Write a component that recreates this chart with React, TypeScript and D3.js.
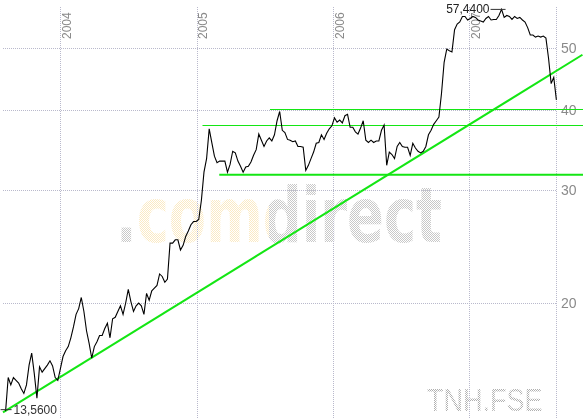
import React, { useEffect, useRef } from 'react';
import * as d3 from 'd3';

const width = 583;
const height = 419;

// weekly closes, first week 2003-08-07
const firstWeek = '2003-08-07';
const closes = [
  13.56, 15.3, 14.9, 15.3, 15.15, 15.0, 14.7, 14.45, 14.9, 16.0,
  16.7, 15.5, 14.2, 15.9, 15.6, 15.8, 16.0, 16.25, 15.95, 15.3,
  15.15, 15.8, 16.5, 16.85, 17.1, 17.65, 18.35, 19.2, 19.6, 20.4,
  19.4, 18.1, 17.3, 16.4, 17.1, 17.4, 17.8, 17.8, 18.25, 18.6,
  17.65, 18.9, 19.0, 19.4, 19.8, 19.2, 20.0, 21.0, 20.1, 19.4,
  19.8, 20.0, 19.8, 19.2, 20.7, 20.2, 20.9, 21.1, 21.3, 22.2,
  22.0, 21.55, 21.8, 24.8, 24.8, 25.1, 25.1, 24.2, 24.6, 25.4,
  25.9, 26.5, 26.8, 26.8, 27.0, 28.9, 32.0, 33.6, 37.4, 35.6,
  33.9, 33.1, 33.3, 33.3, 33.3, 32.0, 32.9, 34.5, 34.3, 33.3,
  32.7, 32.0, 32.6, 32.7, 33.2, 34.0, 34.7, 36.7, 35.9, 35.1,
  35.8, 36.2, 35.8, 36.6, 38.5, 39.8, 37.2, 36.9, 36.0, 35.9,
  35.7, 35.8, 35.1, 35.1, 35.0, 32.2, 32.8, 33.6, 34.4, 35.5,
  35.6, 36.6, 36.0, 36.8, 37.4, 37.8, 38.9, 38.3, 38.6, 38.2,
  39.2, 39.4, 37.6, 37.6, 37.0, 36.7, 37.5, 38.5, 35.9, 35.6,
  35.9, 35.6, 35.8, 35.8, 37.2, 37.9, 32.8, 34.4, 34.1, 33.6,
  35.1, 35.6, 35.1, 35.0, 35.0, 34.0, 35.5, 34.9, 34.5, 34.3,
  34.5, 35.1, 36.6, 37.2, 38.0, 38.5, 39.0, 42.5, 47.5, 49.8,
  49.5, 49.3, 53.4, 54.5, 54.9, 56.0, 56.0, 55.3, 55.6, 56.0,
  55.8, 55.3, 55.1, 54.9, 55.6, 56.0, 55.3, 55.4, 55.4, 56.2,
  57.44, 55.8, 56.2, 56.0, 55.4, 56.0, 55.6, 55.8, 55.3, 54.9,
  53.8, 52.4, 52.4, 52.0, 52.2, 52.0, 52.2, 51.8, 48.2, 44.0,
  45.0, 41.5,
];

const yearTicks = [2004, 2005, 2006, 2007];
const priceTicks = [20, 30, 40, 50];

// horizontal support / resistance lines
const channelLevels = [31.7, 37.9, 40.1];
const channelStarts = ['2005-03-02', '2005-01-16', '2005-07-16'];

// rising trend line from the low
const trendFrom = { date: '2003-07-31', price: 13.5 };
const trendTo = { date: '2007-11-01', price: 48.8 };

const symbol = 'TNH.FSE';
const brand = '.comdirect';

function PriceChart() {
  const svgRef = useRef(null);

  useEffect(() => {
    const svg = d3.select(svgRef.current);
    svg.selectAll('*').remove();

    const parse = d3.timeParse('%Y-%m-%d');
    const start = parse(firstWeek);
    const data = closes.map((c, i) => ({ date: d3.timeWeek.offset(start, i), close: c }));

    const plotRight = 556;
    const x = d3.scaleTime()
      .domain([new Date(2003, 6, 23), new Date(2007, 7, 22)])
      .range([0, plotRight]);
    const y = d3.scaleLog().domain([20, 50]).range([303, 48]);

    const green = '#14e614';
    const fmt = (v) => d3.format('.4f')(v).replace('.', ',');
    const crisp = (v) => Math.round(v) + 0.5;

    // dotted look for the watermark: checker mask
    const defs = svg.append('defs');
    const pat = defs.append('pattern')
      .attr('id', 'dots')
      .attr('width', 2)
      .attr('height', 2)
      .attr('patternUnits', 'userSpaceOnUse');
    pat.append('rect').attr('width', 1).attr('height', 1).attr('fill', '#fff');
    pat.append('rect').attr('x', 1).attr('y', 1).attr('width', 1).attr('height', 1).attr('fill', '#fff');
    defs.append('mask')
      .attr('id', 'dotMask')
      .attr('maskUnits', 'userSpaceOnUse')
      .attr('x', 0).attr('y', 0).attr('width', width).attr('height', height)
      .append('rect')
      .attr('width', width).attr('height', height)
      .attr('fill', 'url(#dots)');

    // ".com" cream, "direct" gray (stops in the squeezed text's own units)
    const squeeze = 0.715;
    const brandX = 116;
    const grad = defs.append('linearGradient')
      .attr('id', 'brandFill')
      .attr('gradientUnits', 'userSpaceOnUse')
      .attr('x1', 0).attr('x2', 500).attr('y1', 0).attr('y2', 0);
    const gray = '#c8c8c8';
    const cream = '#fbeac4';
    [[133, gray], [133, cream], [269, cream], [269, gray]].forEach(([o, c]) => {
      grad.append('stop').attr('offset', (o - brandX) / squeeze / 500).attr('stop-color', c);
    });

    svg.append('rect').attr('width', width).attr('height', height).attr('fill', '#fff');

    const wm = svg.append('g').attr('mask', 'url(#dotMask)');
    wm.append('text')
      .attr('transform', `translate(${brandX},242) scale(${squeeze},1)`)
      .attr('font-family', 'DejaVu Sans, sans-serif')
      .attr('font-weight', 'bold')
      .attr('font-size', 76)
      .attr('fill', 'url(#brandFill)')
      .text(brand);
    wm.append('text')
      .attr('transform', 'translate(427,411) scale(0.872,1)')
      .attr('font-family', 'Liberation Sans, Arial, sans-serif')
      .attr('font-size', 31)
      .attr('fill', '#b0b0b0')
      .text(symbol);

    // grid
    const grid = svg.append('g')
      .attr('stroke', '#b9b9cc')
      .attr('stroke-dasharray', '1,1')
      .attr('shape-rendering', 'crispEdges');
    priceTicks.forEach((t) => {
      grid.append('line')
        .attr('x1', 3).attr('x2', plotRight)
        .attr('y1', crisp(y(t))).attr('y2', crisp(y(t)));
    });
    yearTicks.forEach((yr) => {
      const xx = crisp(x(new Date(yr, 0, 1)));
      grid.append('line').attr('x1', xx).attr('x2', xx).attr('y1', 7).attr('y2', height);
    });
    grid.append('line')
      .attr('x1', plotRight + 0.5).attr('x2', plotRight + 0.5)
      .attr('y1', 7).attr('y2', height);

    // axis labels
    yearTicks.forEach((yr) => {
      const xx = x(new Date(yr, 0, 1));
      svg.append('text')
        .attr('transform', `translate(${xx + 10.5},39) rotate(-90)`)
        .attr('font-family', 'Liberation Sans, Arial, sans-serif')
        .attr('font-size', 12)
        .attr('fill', '#8a8a8a')
        .text(yr);
    });
    priceTicks.forEach((t) => {
      svg.append('text')
        .attr('x', 561)
        .attr('y', y(t) + 5)
        .attr('font-family', 'Liberation Sans, Arial, sans-serif')
        .attr('font-size', 14)
        .attr('fill', '#8a8a8a')
        .text(t);
    });

    // trend lines
    const lowLevel = d3.min(channelLevels);
    channelLevels.forEach((lvl, i) => {
      const thick = lvl === lowLevel;
      const yy = thick ? y(lvl) : crisp(y(lvl));
      svg.append('line')
        .attr('x1', x(parse(channelStarts[i])))
        .attr('x2', width)
        .attr('y1', yy)
        .attr('y2', yy)
        .attr('stroke', green)
        .attr('stroke-width', thick ? 2 : 1);
    });
    svg.append('line')
      .attr('x1', x(parse(trendFrom.date)))
      .attr('y1', y(trendFrom.price))
      .attr('x2', x(parse(trendTo.date)))
      .attr('y2', y(trendTo.price))
      .attr('stroke', green)
      .attr('stroke-width', 2);

    // price line
    const line = d3.line()
      .x((d) => x(d.date))
      .y((d) => y(d.close));
    svg.append('path')
      .datum(data)
      .attr('d', line)
      .attr('fill', 'none')
      .attr('stroke', '#000')
      .attr('stroke-width', 1.1);

    // low / high markers
    const lo = data[d3.minIndex(data, (d) => d.close)];
    const hi = data[d3.maxIndex(data, (d) => d.close)];
    const lx = x(lo.date);
    const ly = y(lo.close);
    svg.append('line')
      .attr('x1', lx - 5).attr('x2', lx + 6)
      .attr('y1', ly - 1.5).attr('y2', ly - 1.5)
      .attr('stroke', '#333');
    svg.append('text')
      .attr('x', lx + 8)
      .attr('y', ly + 2.5)
      .attr('font-family', 'Liberation Sans, Arial, sans-serif')
      .attr('font-size', 12)
      .attr('fill', '#333')
      .text(fmt(lo.close));

    const hx = x(hi.date);
    const hy = y(hi.close);
    svg.append('line')
      .attr('x1', hx - 11).attr('x2', hx + 4)
      .attr('y1', hy).attr('y2', hy)
      .attr('stroke', '#333');
    svg.append('text')
      .attr('x', hx - 12)
      .attr('y', hy + 4)
      .attr('text-anchor', 'end')
      .attr('font-family', 'Liberation Sans, Arial, sans-serif')
      .attr('font-size', 12)
      .attr('fill', '#222')
      .text(fmt(hi.close));
  }, []);

  return (
    <svg
      ref={svgRef}
      width={width}
      height={height}
      style={{ position: 'absolute', left: 0, top: 0 }}
      xmlns="http://www.w3.org/2000/svg"
    />
  );
}

export default function App() {
  return (
    <div className="App">
      <PriceChart />
    </div>
  );
}
